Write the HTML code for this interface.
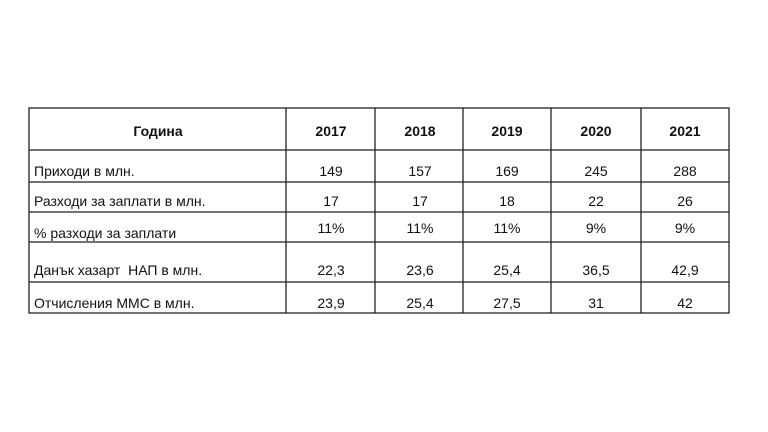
<!DOCTYPE html>
<html><head><meta charset="utf-8"><style>
body{margin:0;width:768px;height:432px;background:#fff;position:relative;overflow:hidden;font-family:"Liberation Sans","DejaVu Sans",sans-serif;color:#111;}
.t{position:absolute;font-size:14px;white-space:nowrap;line-height:16px;}
.c{transform:translateX(-50%);}
.b{font-weight:bold;}
</style></head><body>
<svg width="768" height="432" style="position:absolute;left:0;top:0">
<g stroke="#222" stroke-width="1.3" fill="none">
<rect x="29" y="108" width="700" height="205"/>
<line x1="286" y1="108" x2="286" y2="313"/>
<line x1="375" y1="108" x2="375" y2="313"/>
<line x1="463" y1="108" x2="463" y2="313"/>
<line x1="551" y1="108" x2="551" y2="313"/>
<line x1="641" y1="108" x2="641" y2="313"/>
<line x1="29" y1="150" x2="729" y2="150"/>
<line x1="29" y1="182" x2="729" y2="182"/>
<line x1="29" y1="212" x2="729" y2="212"/>
<line x1="29" y1="242" x2="729" y2="242"/>
<line x1="29" y1="282" x2="729" y2="282"/>
</g></svg>
<div class="t b c" style="left:158px;top:123px">Година</div>
<div class="t b c" style="left:331px;top:123px">2017</div>
<div class="t b c" style="left:420px;top:123px">2018</div>
<div class="t b c" style="left:507px;top:123px">2019</div>
<div class="t b c" style="left:596px;top:123px">2020</div>
<div class="t b c" style="left:685px;top:123px">2021</div>

<div class="t" style="left:34px;top:163px">Приходи в млн.</div>
<div class="t c" style="left:331px;top:163px">149</div>
<div class="t c" style="left:420px;top:163px">157</div>
<div class="t c" style="left:507px;top:163px">169</div>
<div class="t c" style="left:596px;top:163px">245</div>
<div class="t c" style="left:685px;top:163px">288</div>

<div class="t" style="left:34px;top:193px">Разходи за заплати в млн.</div>
<div class="t c" style="left:331px;top:193px">17</div>
<div class="t c" style="left:420px;top:193px">17</div>
<div class="t c" style="left:507px;top:193px">18</div>
<div class="t c" style="left:596px;top:193px">22</div>
<div class="t c" style="left:685px;top:193px">26</div>

<div class="t" style="left:34px;top:225px">% разходи за заплати</div>
<div class="t c" style="left:331px;top:220px">11%</div>
<div class="t c" style="left:420px;top:220px">11%</div>
<div class="t c" style="left:507px;top:220px">11%</div>
<div class="t c" style="left:596px;top:220px">9%</div>
<div class="t c" style="left:685px;top:220px">9%</div>

<div class="t" style="left:34px;top:262px">Данък хазарт&nbsp; НАП в млн.</div>
<div class="t c" style="left:331px;top:262px">22,3</div>
<div class="t c" style="left:420px;top:262px">23,6</div>
<div class="t c" style="left:507px;top:262px">25,4</div>
<div class="t c" style="left:596px;top:262px">36,5</div>
<div class="t c" style="left:685px;top:262px">42,9</div>

<div class="t" style="left:34px;top:295px">Отчисления ММС в млн.</div>
<div class="t c" style="left:331px;top:295px">23,9</div>
<div class="t c" style="left:420px;top:295px">25,4</div>
<div class="t c" style="left:507px;top:295px">27,5</div>
<div class="t c" style="left:596px;top:295px">31</div>
<div class="t c" style="left:685px;top:295px">42</div>
</body></html>
